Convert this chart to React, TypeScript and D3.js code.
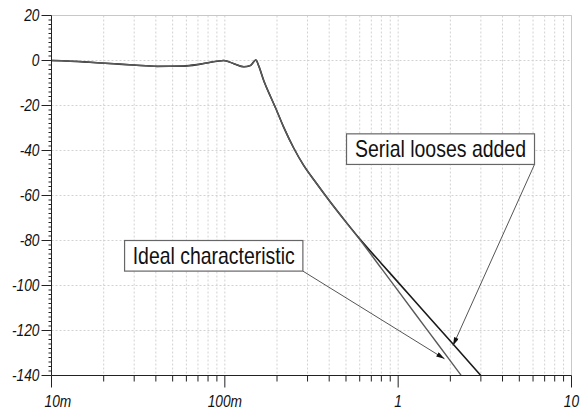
import React from 'react';
import * as d3 from 'd3';

const W = 584;
const H = 414;
const margin = { top: 15.5, right: 12.5, bottom: 38.5, left: 51.5 };

// response shared by both curves (Hz on a log axis, dB)
const freqCommon = [0.01, 0.0154, 0.0192, 0.0245, 0.0297, 0.0407, 0.0578, 0.0724, 0.0904, 0.0986, 0.1127, 0.1287, 0.1406, 0.151, 0.157, 0.1678, 0.1834, 0.196, 0.2181, 0.25, 0.2844, 0.3335, 0.4071];
const dbCommon = [0, -0.6, -1.1, -1.6, -2.0, -2.6, -2.5, -1.6, -0.3, 0, -1.4, -2.8, -2.2, 0.2, -2.5, -9, -16, -21, -29.5, -39, -46.5, -54, -63];

// where the two curves split apart
const idealTailFreq = [0.4969, 0.6064, 0.8, 1.0, 1.5, 2.0, 2.31];
const idealTailDb = [-71.6, -80, -92.4, -102.4, -120.6, -133.5, -140];
const serialTailFreq = [0.4969, 0.6064, 0.8, 1.0, 1.5, 2.0, 3.0];
const serialTailDb = [-71.5, -79.7, -90.2, -98.6, -113.9, -124.7, -140];

const xTickValues = [0.01, 0.1, 1, 10];
const xTickLabels = ['10m', '100m', '1', '10'];
const yTickValues = [20, 0, -20, -40, -60, -80, -100, -120, -140];

// annotation boxes: [f left, dB top, f right, dB bottom], arrow tip [f, dB]
const notes = [
  { text: 'Ideal characteristic', box: [0.0264, -80, 0.282, -93.6], tip: [1.851, -132.6], textWidth: 162 },
  { text: 'Serial looses added', box: [0.5036, -32.6, 6.118, -46.2], tip: [2.072, -126.7], textWidth: 171 },
];

const FONT = "'Liberation Sans', Arial, sans-serif";

export default function App() {
  const x = d3.scaleLog().domain([0.01, 10]).range([margin.left, W - margin.right]);
  const y = d3.scaleLinear().domain([-140, 20]).range([H - margin.bottom, margin.top]);

  const line = d3.line<[number, number]>()
    .x(d => x(d[0]))
    .y(d => y(d[1]))
    .curve(d3.curveMonotoneX);

  const common: [number, number][] = freqCommon.map((f, i) => [f, dbCommon[i]]);
  const ideal = common.concat(idealTailFreq.map((f, i) => [f, idealTailDb[i]] as [number, number]));
  const serial = common.concat(serialTailFreq.map((f, i) => [f, serialTailDb[i]] as [number, number]));

  const xMinor = x.ticks().filter(t => !xTickValues.some(v => Math.abs(v - t) / v < 1e-6));
  const yMinor = d3.range(-140, 21, 2).filter(v => v % 20 !== 0);

  const x0 = margin.left, x1 = W - margin.right;
  const y0 = H - margin.bottom, y1 = margin.top;

  return (
    <svg width={W} height={H} style={{ position: 'absolute', left: 0, top: 0, background: '#fff' }}>
      <defs>
        <marker id="arrow" viewBox="0 0 10 6" refX="10" refY="3" markerWidth="10" markerHeight="5"
          markerUnits="userSpaceOnUse" orient="auto">
          <path d="M0,0 L10,3 L0,6 z" fill="#111" />
        </marker>
      </defs>

      {/* grid */}
      <g stroke="#d2d2d2" strokeWidth={1} strokeDasharray="2,2">
        {x.ticks().map((t, i) => (
          <line key={'gx' + i} x1={x(t)} x2={x(t)} y1={y1} y2={y0} />
        ))}
        {yTickValues.map(v => (
          <line key={'gy' + v} x1={x0} x2={x1} y1={y(v)} y2={y(v)} />
        ))}
      </g>
      <line x1={x0} x2={x1} y1={y1} y2={y1} stroke="#c8c8c8" />
      <line x1={x1} x2={x1} y1={y1} y2={y0} stroke="#c8c8c8" />

      {/* curves */}
      <path d={line(serial) || ''} fill="none" stroke="#1a1a1a" strokeWidth={1.6} />
      <path d={line(ideal) || ''} fill="none" stroke="#5a5a5a" strokeWidth={1.4} />

      {/* axes */}
      <g stroke="#222" strokeWidth={1}>
        <line x1={x0} x2={x0} y1={y1} y2={y0} />
        <line x1={x0} x2={x1} y1={y0} y2={y0} />
        {yTickValues.map(v => (
          <line key={'ty' + v} x1={x0 - 10} x2={x0} y1={y(v)} y2={y(v)} />
        ))}
        {yMinor.map(v => (
          <line key={'my' + v} x1={x0 - 3} x2={x0} y1={y(v)} y2={y(v)} />
        ))}
        {xTickValues.map(v => (
          <line key={'tx' + v} x1={x(v)} x2={x(v)} y1={y0} y2={y0 + 12} />
        ))}
        {xMinor.map((v, i) => (
          <line key={'mx' + i} x1={x(v)} x2={x(v)} y1={y0} y2={y0 + 6} />
        ))}
      </g>

      <g fontFamily={FONT} fontStyle="italic" fontSize={16} fill="#111">
        {yTickValues.map(v => (
          <text key={'ly' + v} transform={`translate(${x0 - 12},${y(v)}) scale(0.86,1)`} dy="0.36em"
            textAnchor="end">{v}</text>
        ))}
        {xTickValues.map((v, i) => (
          <text key={'lx' + v} transform={`translate(${i === 0 ? x(v) - 7 : x(v)},${y0 + 31}) scale(0.86,1)`}
            textAnchor={i === 0 ? 'start' : 'middle'}>{xTickLabels[i]}</text>
        ))}
      </g>

      {/* annotations */}
      {notes.map(n => {
        const bx0 = x(n.box[0]), by0 = y(n.box[1]);
        const bx1 = x(n.box[2]), by1 = y(n.box[3]);
        return (
          <g key={n.text}>
            <line x1={bx1} y1={by1} x2={x(n.tip[0])} y2={y(n.tip[1])} stroke="#555" strokeWidth={1}
              markerEnd="url(#arrow)" />
            <rect x={bx0} y={by0} width={bx1 - bx0} height={by1 - by0} fill="#fff" stroke="#666" strokeWidth={1.2} />
            <text x={(bx0 + bx1) / 2} y={by1 - 7.5} textAnchor="middle" fontFamily={FONT} fontSize={24} fill="#111"
              textLength={n.textWidth} lengthAdjust="spacingAndGlyphs">{n.text}</text>
          </g>
        );
      })}
    </svg>
  );
}
